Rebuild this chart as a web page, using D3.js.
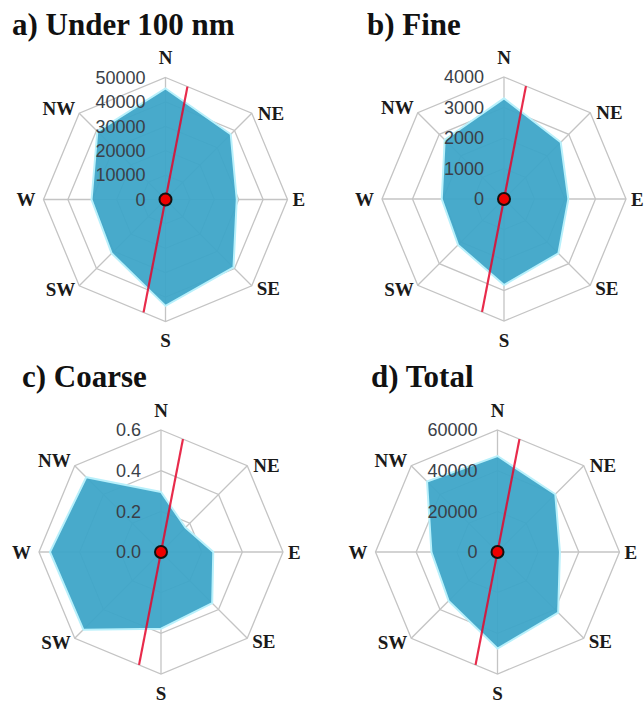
<!DOCTYPE html>
<html>
<head>
<meta charset="utf-8">
<script src="https://cdn.jsdelivr.net/npm/d3@7"></script>
<style>
  html, body { margin: 0; padding: 0; background: #fff; }
  svg { display: block; }
</style>
</head>
<body>
<svg id="chart" width="644" height="704"></svg>
<script>
// Wind-direction categories, clockwise from north
const directions = ["N", "NE", "E", "SE", "S", "SW", "W", "NW"];

// Concentration per wind direction for each size class
const under100 = [45500, 37800, 29200, 39400, 43600, 31200, 30300, 39500];
const fine     = [3300, 2630, 2110, 2520, 2820, 2130, 2040, 2750];
const coarse   = [0.295, 0.17, 0.257, 0.356, 0.377, 0.54, 0.546, 0.52];
const total    = [47200, 40200, 30700, 42200, 47500, 34000, 32500, 49000];

// Radial tick values for each panel
const ticksUnder100 = [0, 10000, 20000, 30000, 40000, 50000];
const ticksFine     = [0, 1000, 2000, 3000, 4000];
const ticksCoarse   = [0.0, 0.2, 0.4, 0.6];
const ticksTotal    = [0, 20000, 40000, 60000];

// Bearing (degrees from north) of the dominant street axis
const streetBearing = 11;

const panels = [
  { title: "a) Under 100 nm", values: under100, ticks: ticksUnder100, fmt: d3.format("d"),
    cx: 165.5, cy: 199.5, tx: 12, ty: 35 },
  { title: "b) Fine", values: fine, ticks: ticksFine, fmt: d3.format("d"),
    cx: 504, cy: 199, tx: 367, ty: 35 },
  { title: "c) Coarse", values: coarse, ticks: ticksCoarse, fmt: d3.format(".1f"),
    cx: 161, cy: 552, tx: 22, ty: 387 },
  { title: "d) Total", values: total, ticks: ticksTotal, fmt: d3.format("d"),
    cx: 497.5, cy: 552, tx: 371, ty: 387 }
];

const R = 122;
const svg = d3.select("#chart");
const serif = "'Liberation Serif', 'Times New Roman', serif";
const sans = "'Liberation Sans', Arial, sans-serif";

const angle = d3.scalePoint().domain(directions).range([0, 2 * Math.PI * 7 / 8]);

// Label placement around the outer ring: [dx, dy, anchor]
const labelPos = {
  N:  [0, -20, "middle"], NE: [6, 0, "start"],  E: [5, 0, "start"],  SE: [5, 3, "start"],
  S:  [0, 19, "middle"],  SW: [-4, 4, "end"],   W: [-8, 0, "end"],   NW: [-4, -5, "end"]
};

panels.forEach(p => {
  const maxV = p.ticks[p.ticks.length - 1];
  const r = d3.scaleLinear().domain([0, maxV]).range([0, R]);
  const g = svg.append("g").attr("transform", `translate(${p.cx},${p.cy})`);
  const pt = (a, rad) => [rad * Math.sin(a), -rad * Math.cos(a)];

  // Octagonal grid rings
  const ring = d3.lineRadial()
    .angle(d => angle(d))
    .curve(d3.curveLinearClosed);
  p.ticks.filter(t => t > 0).forEach(t => {
    g.append("path")
      .attr("d", ring.radius(r(t))(directions))
      .attr("fill", "none")
      .attr("stroke", "#c4c4c4")
      .attr("stroke-width", 1.3);
  });

  // Spokes
  directions.forEach(d => {
    const [x, y] = pt(angle(d), r(maxV));
    g.append("line")
      .attr("x1", 0).attr("y1", 0).attr("x2", x).attr("y2", y)
      .attr("stroke", "#c4c4c4").attr("stroke-width", 1.3);
  });

  // Data polygon
  const area = d3.lineRadial()
    .angle((d, i) => angle(directions[i]))
    .radius(d => r(d))
    .curve(d3.curveLinearClosed);
  g.append("path")
    .attr("d", area(p.values))
    .attr("fill", "#3ea5c8")
    .attr("fill-opacity", 0.95)
    .attr("stroke", "#b8f0fb")
    .attr("stroke-width", 2)
    .attr("stroke-linejoin", "miter");

  // Radial tick labels along the north spoke
  p.ticks.forEach(t => {
    g.append("text")
      .attr("x", -20)
      .attr("y", -r(t))
      .attr("dy", "0.35em")
      .attr("text-anchor", "end")
      .attr("font-family", sans)
      .attr("font-size", 18)
      .attr("fill", "#3a3f48")
      .text(p.fmt(t));
  });

  // Street axis line, clipped to the outer octagon
  const b = streetBearing * Math.PI / 180;
  const sector = Math.PI / 4;
  const rel = ((b % sector) + sector) % sector - sector / 2;
  const reach = r(maxV) * Math.cos(Math.PI / 8) / Math.cos(rel);
  const [x1, y1] = pt(b, reach);
  const [x2, y2] = pt(b + Math.PI, reach);
  g.append("line")
    .attr("x1", x1).attr("y1", y1).attr("x2", x2).attr("y2", y2)
    .attr("stroke", "#e4062c")
    .attr("stroke-opacity", 0.85)
    .attr("stroke-width", 2.2);

  // Receptor marker
  g.append("circle")
    .attr("r", 6)
    .attr("fill", "#ee0000")
    .attr("stroke", "#111")
    .attr("stroke-width", 2);

  // Direction labels
  directions.forEach(d => {
    const [x, y] = pt(angle(d), r(maxV));
    const [dx, dy, anchor] = labelPos[d];
    g.append("text")
      .attr("x", x + dx)
      .attr("y", y + dy)
      .attr("dy", "0.35em")
      .attr("text-anchor", anchor)
      .attr("font-family", serif)
      .attr("font-weight", "bold")
      .attr("font-size", 19)
      .attr("fill", "#1a1a1a")
      .text(d);
  });

  // Panel title
  svg.append("text")
    .attr("x", p.tx)
    .attr("y", p.ty)
    .attr("font-family", serif)
    .attr("font-weight", "bold")
    .attr("font-size", 31)
    .attr("fill", "#111")
    .text(p.title);
});
</script>
</body>
</html>
